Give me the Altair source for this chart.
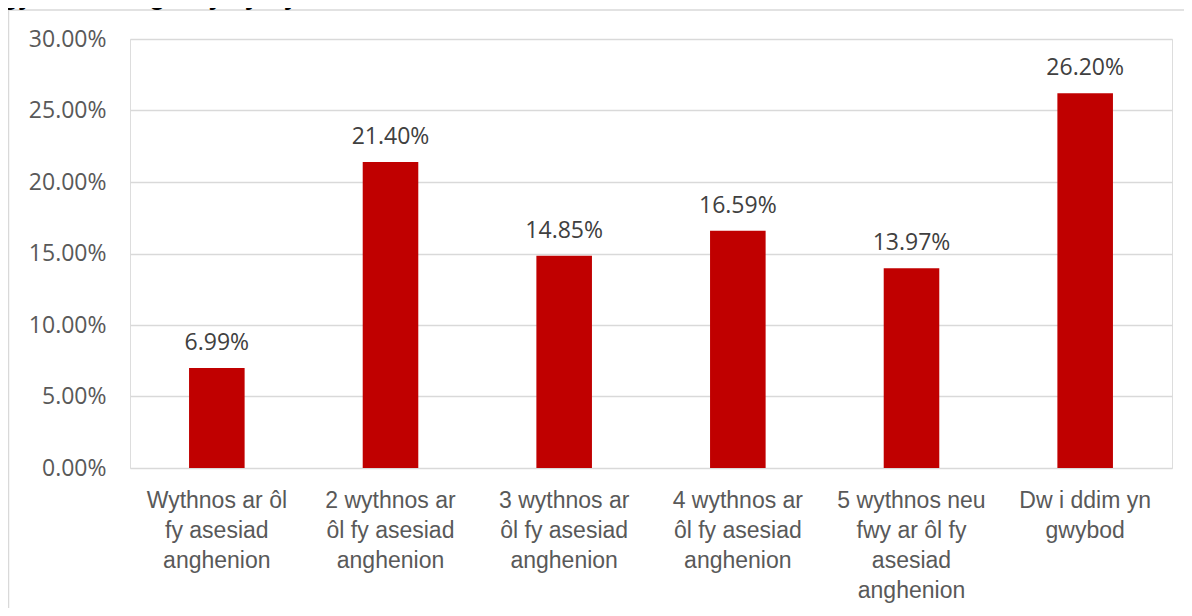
import altair as alt
import pandas as pd

categories = [
    "Wythnos ar ôl\nfy asesiad\nanghenion",
    "2 wythnos ar\nôl fy asesiad\nanghenion",
    "3 wythnos ar\nôl fy asesiad\nanghenion",
    "4 wythnos ar\nôl fy asesiad\nanghenion",
    "5 wythnos neu\nfwy ar ôl fy\nasesiad\nanghenion",
    "Dw i ddim yn\ngwybod",
]
values_pct = [6.99, 21.40, 14.85, 16.59, 13.97, 26.20]
y_ticks = [0, 0.05, 0.10, 0.15, 0.20, 0.25, 0.30]
title_text = "gymerodd i gael y llythyr hwnnw?"

df = pd.DataFrame({"cat": categories, "pct": values_pct})

W, H = 1042, 429
PAD_L, PAD_T = 122, 31

base = alt.Chart(df).transform_calculate(v="datum.pct / 100")

x_enc = alt.X(
    "cat:N",
    sort=categories,
    title=None,
    scale=alt.Scale(paddingInner=0.68, paddingOuter=0.34),
    axis=alt.Axis(
        labelAngle=0,
        labelExpr="split(datum.label, '\\n')",
        labelFont="Liberation Sans",
        labelFontSize=23,
        labelLineHeight=30,
        labelColor="#595959",
        labelPadding=21,
        labelLimit=300,
        ticks=False,
        tickSize=0,
        domain=False,
        grid=False,
        labelBaseline="top",
    ),
)
y_enc = alt.Y(
    "v:Q",
    title=None,
    scale=alt.Scale(domain=[0, 0.30], nice=False),
    axis=alt.Axis(
        values=y_ticks,
        format=".2%",
        labelFont="Open Sans",
        labelFontSize=23,
        labelColor="#595959",
        labelPadding=24,
        ticks=False,
        tickSize=0,
        domain=False,
        grid=True,
        gridColor="#D9D9D9",
        gridWidth=1.5,
    ),
)

bars = base.mark_bar(color="#C00000").encode(x=x_enc, y=y_enc)

labels = base.mark_text(
    font="Open Sans",
    fontSize=23,
    color="#404040",
    baseline="alphabetic",
    dy=-18,
).encode(
    x=alt.X("cat:N", sort=categories),
    y="v:Q",
    text=alt.Text("v:Q", format=".2%"),
)

deco = alt.Chart(pd.DataFrame({"a": [0]}))
border_top = deco.mark_rule(color="#D9D9D9", strokeWidth=1.5).encode(
    x=alt.value(-PAD_L), x2=alt.value(W + 60), y=alt.value(-29)
)
border_left = deco.mark_rule(color="#D9D9D9", strokeWidth=1.5).encode(
    x=alt.value(-PAD_L + 0.5), y=alt.value(-29), y2=alt.value(H + 200)
)
title = deco.mark_text(
    font="Liberation Sans",
    fontSize=26,
    fontWeight="bold",
    color="#000000",
    align="left",
    baseline="alphabetic",
).encode(x=alt.value(-PAD_L - 6), y=alt.value(-PAD_T - 3), text=alt.value(title_text))

chart = (
    alt.layer(bars, labels, border_top, border_left, title)
    .properties(
        width=W,
        height=H,
        autosize=alt.AutoSizeParams(type="none"),
        padding={"left": PAD_L, "top": PAD_T, "right": 12, "bottom": 140},
    )
    .configure_view(stroke=None)
    .configure(background="white")
)

chart.save("out.html", embed_options={"renderer": "svg", "actions": False})
